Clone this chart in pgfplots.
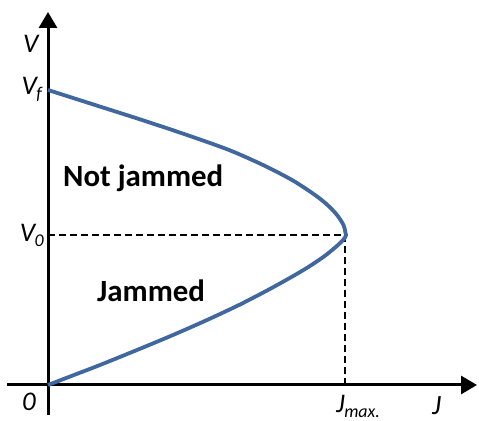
\documentclass[border=0pt]{standalone}
\usepackage{fontspec}
\setmainfont{Carlito}
\usepackage{pgfplots}
\pgfplotsset{compat=1.18}
\usetikzlibrary{arrows.meta}
\definecolor{curveblue}{RGB}{64,104,158}
\newcommand{\lab}[2]{{\fontsize{27}{27}\selectfont\itshape #1\kern-0.5bp\raisebox{-5bp}{\fontsize{18}{18}\selectfont #2}}}
\begin{document}
\begin{tikzpicture}
\begin{axis}[
  scale only axis, width=479bp, height=421bp,
  xmin=-48, xmax=431, ymin=-36, ymax=385,
  hide axis, clip=false]
\path (axis cs:-48,-36) rectangle (axis cs:431,385);
% dashed guide lines
\addplot[black, line width=1.8bp, dash pattern=on 7bp off 4bp] coordinates {(0,150) (297,150) (297,0)};
% axes
\draw[black, line width=3bp, -{Triangle[length=16bp,width=18bp]}] (axis cs:-41,0) -- (axis cs:429,0);
\draw[black, line width=3bp, -{Triangle[length=16bp,width=18bp]}] (axis cs:0,-30) -- (axis cs:0,373);
% curve
\addplot[curveblue, line width=3.8bp, smooth, tension=0.5] coordinates {
(0,0) (26,10) (52,20) (89,35) (125,50) (159,65) (191,80) (220,95) (247,110) (263.5,120) (278,130) (290,140) (295,145) (297.3,148) (298,150)
(297.3,153) (295.5,160) (289,170) (279.5,180) (267,190) (244,205) (215,220) (181,235) (139,250) (94,265) (47,280) (0,295)};
% labels
\node[anchor=base west, inner sep=0pt] at (axis cs:15,198) {\fontsize{31}{31}\selectfont\bfseries Not jammed};
\node[anchor=base west, inner sep=0pt] at (axis cs:49,83) {\fontsize{31}{31}\selectfont\bfseries Jammed};
\node[anchor=base west, inner sep=0pt] at (axis cs:-25,332) {\fontsize{27}{27}\selectfont\itshape V};
\node[anchor=base east, inner sep=0pt] at (axis cs:-6,290) {\lab{V}{f}};
\node[anchor=base east, inner sep=0pt] at (axis cs:-4,143) {\lab{V}{0}};
\node[anchor=base, inner sep=0pt] at (axis cs:-19,-25) {\fontsize{27}{27}\selectfont\itshape 0};
\node[anchor=base west, inner sep=0pt] at (axis cs:288,-27) {\lab{J}{max.}};
\node[anchor=base west, inner sep=0pt] at (axis cs:384,-29) {\fontsize{28}{28}\selectfont\itshape J};
\end{axis}
\end{tikzpicture}
\end{document}
